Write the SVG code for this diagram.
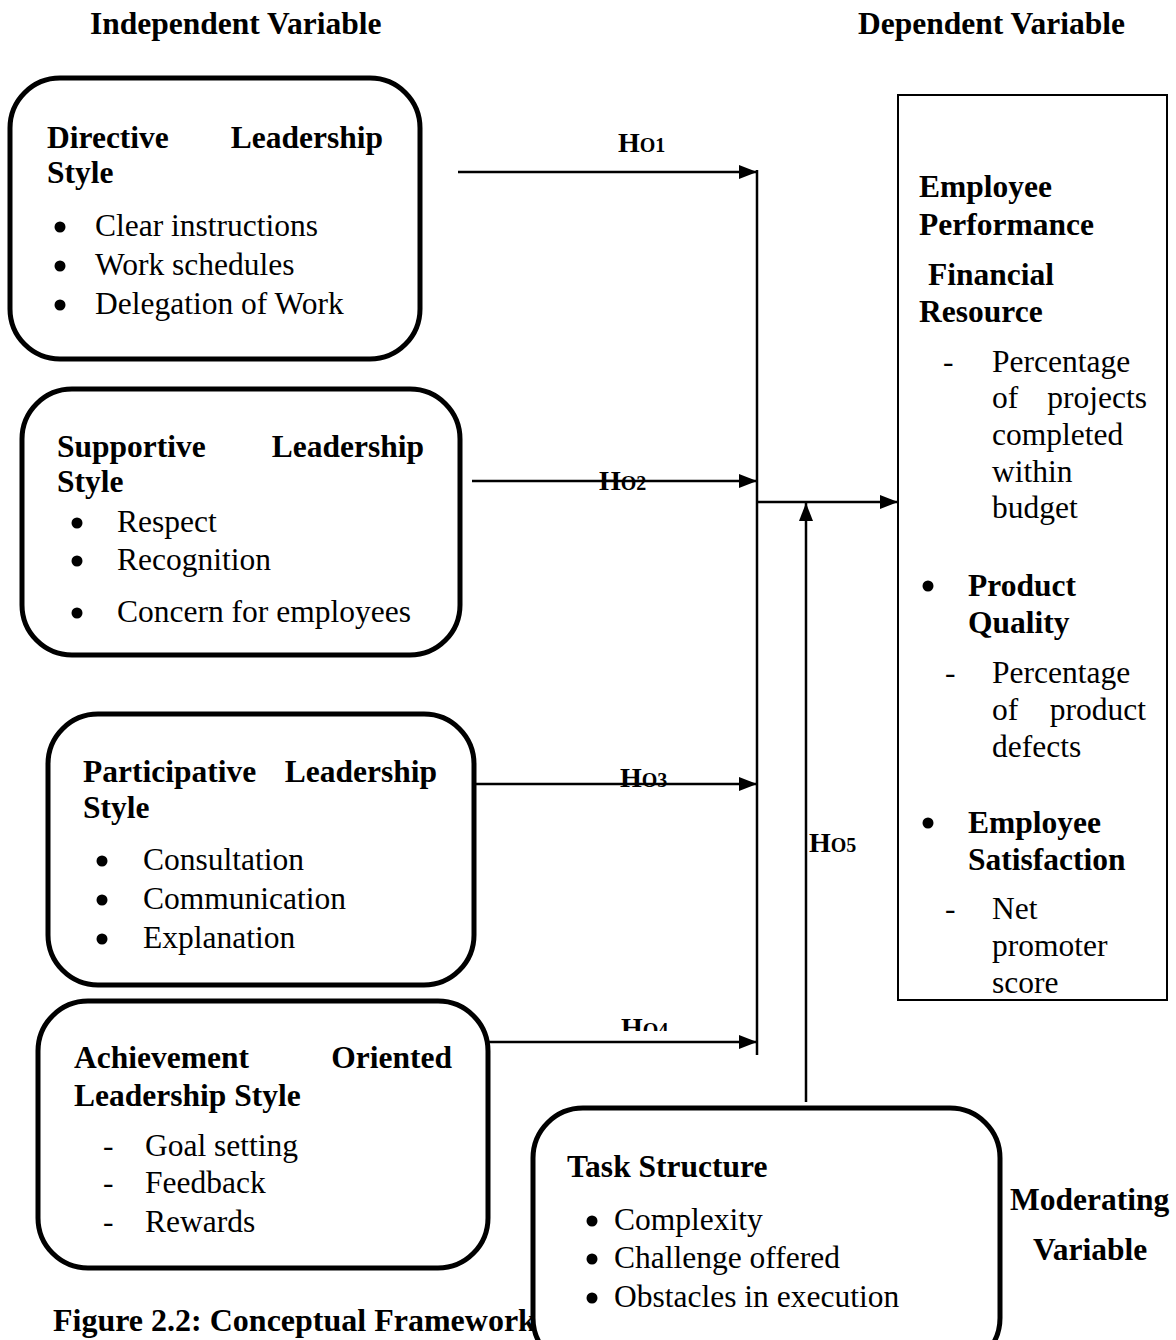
<svg xmlns="http://www.w3.org/2000/svg" width="1176" height="1340" viewBox="0 0 1176 1340">
<style>
text{font-family:"Liberation Serif","Times New Roman",serif;font-size:31.5px;fill:#000}
.b{font-weight:bold}
.box{fill:#fff;stroke:#000;stroke-width:5}
.rect{fill:#fff;stroke:#000;stroke-width:2}
.ln{fill:none;stroke:#000;stroke-width:2.5}
.h{font-weight:bold;font-size:28px}
.s{font-size:20px}
</style>
<defs>
<marker id="ah" markerUnits="userSpaceOnUse" markerWidth="20" markerHeight="16" refX="18" refY="7" orient="auto"><path d="M0,0 L18,7 L0,14 z" fill="#000"/></marker>
<clipPath id="c4"><rect x="600" y="1000" width="100" height="31"/></clipPath>
</defs>
<rect width="1176" height="1340" fill="#fff"/>
<text class="b" x="90" y="34">Independent Variable</text>
<text class="b" x="858" y="34">Dependent Variable</text>
<text class="b" x="53" y="1331" style="font-size:32px">Figure 2.2: Conceptual Framework</text>

<g id="connectors">
<line class="ln" x1="458" y1="172" x2="757" y2="172" marker-end="url(#ah)"/>
<line class="ln" x1="472" y1="481" x2="757" y2="481" marker-end="url(#ah)"/>
<line class="ln" x1="475" y1="784" x2="757" y2="784" marker-end="url(#ah)"/>
<line class="ln" x1="488" y1="1042" x2="757" y2="1042" marker-end="url(#ah)"/>
<line class="ln" x1="757" y1="170" x2="757" y2="1055"/>
<line class="ln" x1="757" y1="502" x2="898" y2="502" marker-end="url(#ah)"/>
<line class="ln" x1="806" y1="1102" x2="806" y2="503" marker-end="url(#ah)"/>
<text class="h" x="618" y="152">H<tspan class="s">O1</tspan></text>
<text class="h" x="599" y="490">H<tspan class="s">O2</tspan></text>
<text class="h" x="620" y="787">H<tspan class="s">O3</tspan></text>
<text class="h" x="621" y="1037" clip-path="url(#c4)">H<tspan class="s">O4</tspan></text>
<text class="h" x="809" y="852">H<tspan class="s">O5</tspan></text>
</g>

<g id="directive">
<rect class="box" x="10" y="78" width="410" height="281" rx="50"/>
<text class="b" x="47" y="148">Directive</text>
<text class="b" x="383" y="148" text-anchor="end">Leadership</text>
<text class="b" x="47" y="183">Style</text>
<circle cx="60" cy="227" r="5.5"/><text x="95" y="236">Clear instructions</text>
<circle cx="60" cy="266" r="5.5"/><text x="95" y="275">Work schedules</text>
<circle cx="60" cy="305" r="5.5"/><text x="95" y="314">Delegation of Work</text>
</g>

<g id="supportive">
<rect class="box" x="22" y="389" width="438" height="266" rx="50"/>
<text class="b" x="57" y="457">Supportive</text>
<text class="b" x="424" y="457" text-anchor="end">Leadership</text>
<text class="b" x="57" y="492">Style</text>
<circle cx="77" cy="523" r="5.5"/><text x="117" y="532">Respect</text>
<circle cx="77" cy="561" r="5.5"/><text x="117" y="570">Recognition</text>
<circle cx="77" cy="613" r="5.5"/><text x="117" y="622">Concern for employees</text>
</g>

<g id="participative">
<rect class="box" x="48" y="714" width="426" height="271" rx="50"/>
<text class="b" x="83" y="782">Participative</text>
<text class="b" x="437" y="782" text-anchor="end">Leadership</text>
<text class="b" x="83" y="818">Style</text>
<circle cx="102" cy="861" r="5.5"/><text x="143" y="870">Consultation</text>
<circle cx="102" cy="900" r="5.5"/><text x="143" y="909">Communication</text>
<circle cx="102" cy="939" r="5.5"/><text x="143" y="948">Explanation</text>
</g>

<g id="achievement">
<rect class="box" x="38" y="1001" width="450" height="267" rx="50"/>
<text class="b" x="74" y="1068">Achievement</text>
<text class="b" x="452" y="1068" text-anchor="end">Oriented</text>
<text class="b" x="74" y="1106">Leadership Style</text>
<text x="103" y="1156">-</text><text x="145" y="1156">Goal setting</text>
<text x="103" y="1193">-</text><text x="145" y="1193">Feedback</text>
<text x="103" y="1232">-</text><text x="145" y="1232">Rewards</text>
</g>

<g id="task">
<rect class="box" x="533" y="1108" width="467" height="260" rx="50"/>
<text class="b" x="567" y="1177">Task Structure</text>
<circle cx="592" cy="1221" r="5.5"/><text x="614" y="1230">Complexity</text>
<circle cx="592" cy="1259" r="5.5"/><text x="614" y="1268">Challenge offered</text>
<circle cx="592" cy="1298" r="5.5"/><text x="614" y="1307">Obstacles in execution</text>
</g>
<text class="b" x="1010" y="1210">Moderating</text>
<text class="b" x="1033" y="1260">Variable</text>

<g id="dependent">
<rect class="rect" x="898" y="95" width="269" height="905"/>
<text class="b" x="919" y="197">Employee</text>
<text class="b" x="919" y="235">Performance</text>
<text class="b" x="928" y="285">Financial</text>
<text class="b" x="919" y="322">Resource</text>
<text x="943" y="372">-</text><text x="992" y="372">Percentage</text>
<text x="992" y="408">of</text><text x="1147" y="408" text-anchor="end">projects</text>
<text x="992" y="445">completed</text>
<text x="992" y="482">within</text>
<text x="992" y="518">budget</text>
<circle cx="928" cy="586" r="5.5"/><text class="b" x="968" y="596">Product</text>
<text class="b" x="968" y="633">Quality</text>
<text x="945" y="683">-</text><text x="992" y="683">Percentage</text>
<text x="992" y="720">of</text><text x="1146" y="720" text-anchor="end">product</text>
<text x="992" y="757">defects</text>
<circle cx="928" cy="823" r="5.5"/><text class="b" x="968" y="833">Employee</text>
<text class="b" x="968" y="870">Satisfaction</text>
<text x="945" y="919">-</text><text x="992" y="919">Net</text>
<text x="992" y="956">promoter</text>
<text x="992" y="993">score</text>
</g>
</svg>
